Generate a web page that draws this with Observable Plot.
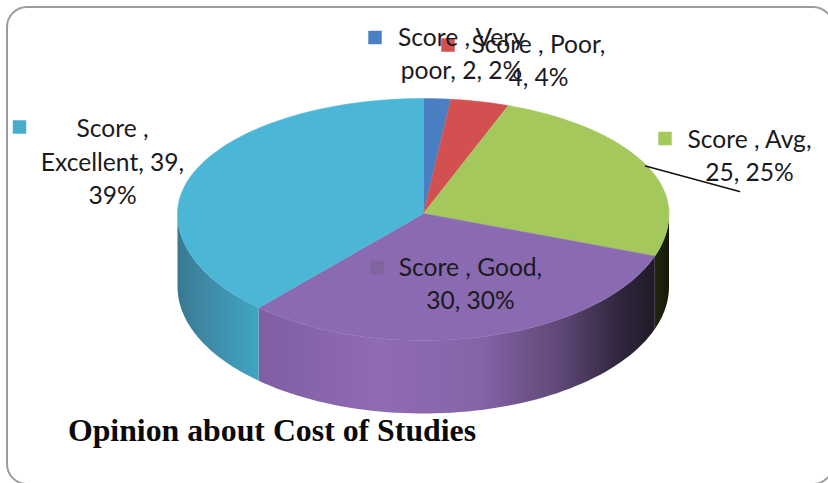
<!DOCTYPE html>
<html>
<head>
<meta charset="utf-8">
<script src="https://cdn.jsdelivr.net/npm/d3@7"></script>
<script src="https://cdn.jsdelivr.net/npm/@observablehq/plot@0.6"></script>
<style>html,body{margin:0;padding:0;background:#fff;overflow:hidden}svg{display:block}</style>
</head>
<body>
<script>
// Chart data
const categories = ["Very poor", "Poor", "Avg", "Good", "Excellent"];
const scores = [2, 4, 25, 30, 39];
const labels = [
  "Score , Very\npoor, 2, 2%",
  "Score , Poor,\n4, 4%",
  "Score , Avg,\n25, 25%",
  "Score , Good,\n30, 30%",
  "Score ,\nExcellent, 39,\n39%"
];
const title = "Opinion about Cost of Studies";

// Colours
const topColors = ["#4a7fc4", "#d25050", "#a5c85c", "#8a6ab0", "#4cb6d6"];
const keyColors = ["#4a7fc4", "#d25050", "#a5c85c", "#7f64a0", "#46aecb"];
const wallStops = {
  Avg: [["0%", "#20260f"], ["100%", "#141a08"]],
  Good: [["0%", "#7f5ea3"], ["30%", "#8f6bb3"], ["55%", "#8565a8"], ["76%", "#5f4877"], ["90%", "#33283f"], ["100%", "#1f1a29"]],
  Excellent: [["0%", "#37788f"], ["30%", "#3f87a3"], ["100%", "#3fa6c2"]]
};

// Layout of the drawing (pie placement and label placement, in chart units)
const pie = {cx: 423, cy: 213, rxLeft: 246, rxRight: 245.5, ryBack: 115, ryFront: 127, depth: 73};
const labelX = [461, 538, 749, 470, 112];
const labelY = [55, 62, 157, 285, 163];
const keyX = [374.5, 447.5, 664.5, 376.5, 19];
const keyY = [37, 44.5, 138, 267, 126.5];
const leader = [{x: 645, y: 165.5}, {x: 739, y: 191}];

const arcs = d3.pie().sort(null)(scores);
// Perspective foreshortening of the tilted disc: true angle (deg) to drawn angle (deg)
const tilt = d3.scaleLinear().domain([0, 7, 22, 112, 220, 270, 360]).range([0, 6.2, 20.6, 110, 222.5, 270, 360]);
const drawn = a => tilt(a * 180 / Math.PI) * Math.PI / 180;
const px = a => pie.cx + (Math.sin(a) > 0 ? pie.rxRight : pie.rxLeft) * Math.sin(a);
const py = a => pie.cy - (Math.cos(a) > 0 ? pie.ryBack : pie.ryFront) * Math.cos(a);
const steps = (a0, a1) => d3.range(0, 61).map(i => a0 + (a1 - a0) * i / 60);

const slice = arc => [{x: pie.cx, y: pie.cy}, ...steps(drawn(arc.startAngle), drawn(arc.endAngle)).map(a => ({x: px(a), y: py(a)}))];
const wall = arc => {
  const a0 = Math.max(drawn(arc.startAngle), Math.PI / 2), a1 = Math.min(drawn(arc.endAngle), 3 * Math.PI / 2);
  if (a1 <= a0) return null;
  const s = steps(a0, a1);
  return [...s.map(a => ({x: px(a), y: py(a)})), ...s.slice().reverse().map(a => ({x: px(a), y: py(a) + pie.depth}))];
};

const defs = () => {
  const ns = "http://www.w3.org/2000/svg";
  const d = document.createElementNS(ns, "defs");
  categories.forEach((c, i) => {
    if (!wallStops[c]) return;
    const pts = wall(arcs[i]);
    const g = document.createElementNS(ns, "linearGradient");
    g.setAttribute("id", "wall-" + c);
    g.setAttribute("gradientUnits", "userSpaceOnUse");
    const [x0, x1] = d3.extent(pts, p => p.x);
    g.setAttribute("x1", x0);
    g.setAttribute("x2", x1);
    g.setAttribute("y1", 0);
    g.setAttribute("y2", 0);
    wallStops[c].forEach(([o, col]) => {
      const st = document.createElementNS(ns, "stop");
      st.setAttribute("offset", o);
      st.setAttribute("stop-color", col);
      g.appendChild(st);
    });
    d.appendChild(g);
  });
  return d;
};

const wallMarks = categories.flatMap((c, i) => {
  const pts = wall(arcs[i]);
  return pts ? [Plot.line(pts, {x: "x", y: "y", fill: `url(#wall-${c})`, stroke: "none"})] : [];
});
const topMarks = categories.map((c, i) =>
  Plot.line(slice(arcs[i]), {x: "x", y: "y", fill: topColors[i], stroke: topColors[i], strokeWidth: 0.5})
);

const labelRows = categories.map((c, i) => ({c, text: labels[i], x: labelX[i], y: labelY[i], kx: keyX[i], ky: keyY[i], col: keyColors[i]}));

const chart = Plot.plot({
  width: 828,
  height: 483,
  margin: 0,
  style: {background: "#fff", fontFamily: "Lato, sans-serif"},
  x: {domain: [0, 828], range: [0, 828], axis: null},
  y: {domain: [0, 483], range: [0, 483], axis: null},
  marks: [
    defs,
    Plot.rect([{}], {x1: () => 7, x2: () => 833, y1: () => 7, y2: () => 484, rx: 20, fill: "#fff", stroke: "#9c9c9c", strokeWidth: 2}),
    ...wallMarks,
    ...topMarks,
    Plot.line(leader, {x: "x", y: "y", stroke: "#111", strokeWidth: 1.5}),
    ...labelRows.map(r => Plot.dot([r], {x: "kx", y: "ky", symbol: "square", r: 7.6, fill: r.col, stroke: "none"})),
    Plot.text(labelRows, {x: "x", y: "y", text: "text", fontSize: 24.6, lineHeight: 1.35, fill: "#1a1a20", textAnchor: "middle", dy: -3.5}),
    Plot.text([title], {x: () => 271.5, y: () => 430, text: d => d, fontFamily: "Liberation Serif", fontWeight: "bold", fontSize: 31.8, fill: "#0a0a0a"})
  ]
});
document.body.appendChild(chart);
</script>
</body>
</html>
